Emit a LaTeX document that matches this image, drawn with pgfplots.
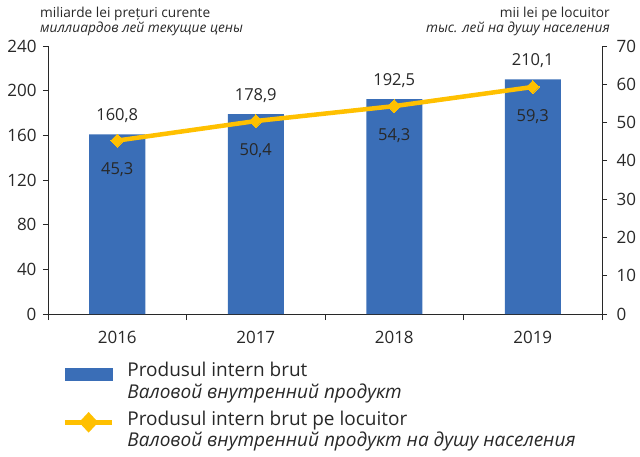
\documentclass[border=0pt]{standalone}
\usepackage{fontspec}
\setmainfont{Open Sans}
\usepackage{pgfplots}
\pgfplotsset{compat=1.18}
\definecolor{pibblue}{RGB}{58,110,183}
\definecolor{pibgold}{RGB}{255,192,0}
\definecolor{axgray}{RGB}{40,40,40}

\begin{document}
\begin{tikzpicture}
\pgfplotsset{
  every axis/.append style={
    scale only axis, width=554pt, height=268pt,
    xmin=-0.5, xmax=3.5, clip=false,
    /pgf/number format/assume math mode=true,
    tick label style={font=\fontsize{17}{20}\selectfont, text=axgray},
    axis line style={axgray, line width=0.9pt},
    tick style={axgray, line width=0.9pt},
    tick align=outside, major tick length=5pt,
  },
}
% bars, left axis
\begin{axis}[
  axis x line*=bottom, axis y line*=left,
  ymin=0, ymax=240, ytick={0,40,...,240},
  yticklabel style={xshift=-3pt},
  xtick={0,1,2,3}, xticklabels={2016,2017,2018,2019},
  major x tick style={draw=none},
  minor xtick={-0.5,0.5,1.5,2.5,3.5}, minor tick length=6pt,
  xticklabel style={yshift=-9pt},
  ybar, bar width=56pt,
  nodes near coords,
  nodes near coords style={font=\fontsize{16.5}{19}\selectfont, text=axgray, yshift=8pt,
    /pgf/number format/.cd, fixed, fixed zerofill, precision=1, use comma},
]
\addplot[fill=pibblue, draw=none] coordinates {(0,160.8) (1,178.9) (2,192.5) (3,210.1)};
\node[anchor=south west, align=left, inner sep=0pt, text=axgray,
  font=\fontsize{13.7}{15.5}\selectfont] at (axis description cs:-0.0144,1.036)
  {miliarde lei prețuri curente\\\textit{миллиардов лей текущие цены}};
\node[anchor=south east, align=right, inner sep=0pt, text=axgray,
  font=\fontsize{13.7}{15.5}\selectfont] at (axis description cs:1.0144,1.036)
  {mii lei pe locuitor\\\textit{тыс. лей на душу населения}};
\end{axis}
% line, right axis
\begin{axis}[
  axis y line*=right, axis x line=none,
  ymin=0, ymax=70, ytick={0,10,...,70},
  yticklabel style={xshift=6pt},
  legend style={at={(axis description cs:0.0265,-0.179)}, anchor=north west,
    draw=none, fill=none, inner sep=0pt, row sep=11pt, column sep=13pt,
    font=\fontsize{19}{21.5}\selectfont, text=axgray,
    nodes={align=left, inner sep=0pt}},
  legend cell align=left,
]
\addlegendimage{legend image code/.code={\fill[pibblue] (0pt,1pt) rectangle (47pt,13pt);}}
\addlegendentry{Produsul intern brut\\\textit{Валовой внутренний продукт}}
\addplot[pibgold, line width=4.5pt, mark=diamond*,
  mark options={solid, fill=pibgold, draw=pibgold, line width=0pt, xscale=1.3}, mark size=6.5pt,
  nodes near coords,
  nodes near coords style={anchor=north, yshift=-19pt, font=\fontsize{16.5}{19}\selectfont, text=axgray,
    /pgf/number format/.cd, fixed, fixed zerofill, precision=1, use comma},
  legend image code/.code={
    \draw[pibgold, line width=4.5pt] (0pt,7pt) -- (47pt,7pt);
    \fill[pibgold] (23.5pt,0pt) -- (30pt,7pt) -- (23.5pt,14pt) -- (17pt,7pt) -- cycle;}]
  coordinates {(0,45.3) (1,50.4) (2,54.3) (3,59.3)};
\addlegendentry{Produsul intern brut pe locuitor\\\textit{Валовой внутренний продукт на душу населения}}
\end{axis}
\useasboundingbox (-48pt,-142pt) rectangle (592pt,314pt);
\end{tikzpicture}
\end{document}
